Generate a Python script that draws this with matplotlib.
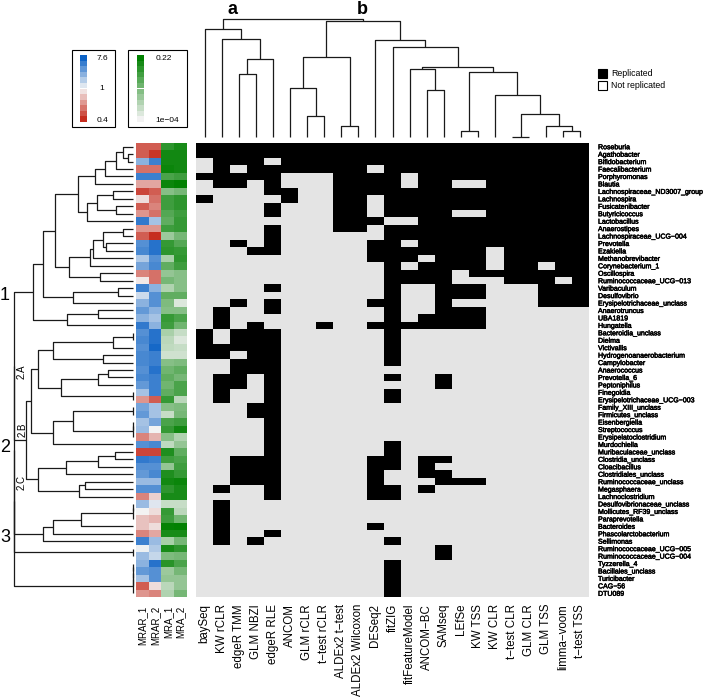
import numpy as np
import matplotlib
matplotlib.use('Agg')
import matplotlib.pyplot as plt
import matplotlib.patheffects as pe
from matplotlib.colors import ListedColormap, LinearSegmentedColormap
from matplotlib.patches import Rectangle

plt.rcParams['font.family'] = ['Liberation Sans', 'DejaVu Sans']

genera = ['Roseburia', 'Agathobacter', 'Bifidobacterium', 'Faecalibacterium',
          'Porphyromonas', 'Blautia', 'Lachnospiraceae_ND3007_group', 'Lachnospira',
          'Fusicatenibacter', 'Butyricicoccus', 'Lactobacillus', 'Anaerostipes',
          'Lachnospiraceae_UCG\u2212004', 'Prevotella', 'Ezakiella', 'Methanobrevibacter',
          'Corynebacterium_1', 'Oscillospira', 'Ruminococcaceae_UCG\u2212013', 'Varibaculum',
          'Desulfovibrio', 'Erysipelotrichaceae_unclass', 'Anaerotruncus', 'UBA1819',
          'Hungatella', 'Bacteroidia_unclass', 'Dielma', 'Victivallis',
          'Hydrogenoanaerobacterium', 'Campylobacter', 'Anaerococcus', 'Prevotella_6',
          'Peptoniphilus', 'Finegoldia', 'Erysipelotrichaceae_UCG\u2212003', 'Family_XIII_unclass',
          'Firmicutes_unclass', 'Eisenbergiella', 'Streptococcus', 'Erysipelatoclostridium',
          'Murdochiella', 'Muribaculaceae_unclass', 'Clostridia_unclass', 'Cloacibacillus',
          'Clostridiales_unclass', 'Ruminococcaceae_unclass', 'Megasphaera', 'Lachnoclostridium',
          'Desulfovibrionaceae_unclass', 'Mollicutes_RF39_unclass', 'Paraprevotella', 'Bacteroides',
          'Phascolarctobacterium', 'Sellimonas', 'Ruminococcaceae_UCG\u2212005',
          'Ruminococcaceae_UCG\u2212004', 'Tyzzerella_4', 'Bacillales_unclass', 'Turicibacter',
          'CAG\u221256', 'DTU089']

methods = ['baySeq', 'KW rCLR', 'edgeR TMM', 'GLM NBZI', 'edgeR RLE', 'ANCOM', 'GLM rCLR',
           't\u2212test rCLR', 'ALDEx2 t\u2212test', 'ALDEx2 Wilcoxon', 'DESeq2', 'fitZIG',
           'fitFeatureModel', 'ANCOM\u2212BC', 'SAMseq', 'LEfSe', 'KW TSS', 'KW CLR',
           't\u2212test CLR', 'GLM CLR', 'GLM TSS', 'limma\u2212voom', 't\u2212test TSS']

# rows (genus index) where each method was replicated
replicated = [
    "0-1,4,7,25-28",
    "0-5,22-24,27-28,31-34,46,48-53",
    "0-2,4-5,13,21,25-27,29-32,42-45",
    "0-4,14,24-30,35-36,42-45,53",
    "0-1,3-6,8-9,11-14,19,21-22,25-47,52",
    "0-3,6-7",
    "0-3",
    "0-3,24",
    "0-11",
    "0-11",
    "0-2,4-6,10,13-15,21,24,42-47,51",
    "0-9,11-29,31,33-34,40-43,46-47,53,56-60",
    "0-3,6-9,11-12,14-15,17-18,24",
    "0-14,16-18,23-24,42-44,46",
    "0-24,31-32,42,44-45,54-55",
    "0-4,6-8,10-16,19-20,22-24,45",
    "0-4,6-8,10-17,19-20,22-24,45",
    "0-13,17",
    "0-18",
    "0-18",
    "0-15,17-21",
    "0-17,19-21",
    "0-21",
]

mrar_1 = [0.5, 0.5, 2.5, 0.55, 5, 0.7, 0.45, 0.9, 0.5, 0.65, 5.5, 0.65, 0.5, 4, 4.5, 1.8,
          3, 0.6, 0.95, 5, 1.4, 2.5, 3.5, 2.5, 5.5, 4, 4.5, 4, 4.5, 4.5, 4, 4.5, 3.5, 2, 0.65,
          3, 3.5, 2, 2.2, 0.6, 4, 0.45, 5.5, 4, 3.5, 2.2, 4, 0.6, 2.2, 1.0, 0.8, 0.8, 0.6, 5,
          1.05, 2.2, 2.5, 3.5, 2, 0.5, 0.65]
mrar_2 = [0.5, 0.42, 5, 0.55, 5, 0.7, 0.5, 0.55, 0.6, 0.55, 2, 0.65, 0.4, 6, 6, 4, 4.5,
          0.55, 0.55, 2.5, 4, 4, 2.5, 2, 2.5, 6, 6, 7, 5, 5, 6, 5, 5, 5, 0.5, 2, 2, 3, 1.0,
          0.75, 4.5, 0.45, 5, 4, 4.5, 2.2, 4, 0.85, 1.2, 0.9, 0.75, 0.9, 0.7, 2.2, 1.8, 1.5,
          6, 4, 4, 0.9, 0.6]
mra_1 = [0.05, 0.12, 0.12, 0.15, 0.02, 0.15, 0.003, 0.03, 0.03, 0.015, 0.01, 0.03, 0.0015,
         0.04, 0.05, 0.001, 0.01, 0.002, 0.005, 0.0008, 0.01, 0.004, 0.003, 0.04, 0.03, 0.001,
         0.0006, 0.0005, 0.0003, 0.003, 0.006, 0.01, 0.006, 0.01, 0.04, 0.003, 0.0004, 0.02,
         0.04, 0.003, 0.0005, 0.08, 0.03, 0.002, 0.08, 0.12, 0.05, 0.1, 0.0004, 0.04, 0.03,
         0.18, 0.1, 0.001, 0.1, 0.004, 0.06, 0.0015, 0.002, 0.0006, 0.0008]
mra_2 = [0.1, 0.12, 0.12, 0.12, 0.03, 0.2, 0.005, 0.05, 0.05, 0.03, 0.04, 0.04, 0.005,
         0.015, 0.04, 0.05, 0.03, 0.003, 0.003, 0.003, 0.01, 0.0002, 0.003, 0.02, 0.006,
         0.0004, 0.0002, 0.0004, 0.0003, 0.004, 0.01, 0.005, 0.02, 0.02, 0.0006, 0.004, 0.005,
         0.03, 0.12, 0.0008, 0.002, 0.01, 0.02, 0.03, 0.04, 0.15, 0.1, 0.1, 0.0004, 0.0006,
         0.006, 0.2, 0.1, 0.005, 0.05, 0.005, 0.02, 0.005, 0.002, 0.002, 0.005]
anno_labels = ['MRAR_1', 'MRAR_2', 'MRA_1', 'MRA_2']


def N(a, b, h):
    return (a, b, h)


# column dendrogram (method similarity)
col_tree = N(N(0, N(1, N(N(2, 3, 188), 4, 232), 292), 322),
             N(N(N(5, N(6, 7, 64), 147), N(8, 9, 32), 240),
               N(10, N(11, N(N(12, N(13, 14, 140), 204),
                             N(N(15, 16, 18),
                               N(17, N(N(18, 19, 0), N(20, N(21, 22, 18), 34), 70), 125),
                               195), 208), 268), 288), 347), 352)

# row dendrogram (genus similarity)
g1 = N(N(N(N(N(0, N(1, 2, 0.042), 0.084), 3, 0.14), 4, 0.238), 5, 0.317),
       N(N(N(6, 7, 0.168), N(8, 9, 0.14), 0.30), 10, 0.384), 0.462)
g2 = N(N(N(N(N(11, 12, 0.084), N(13, 14, 0.224), 0.252), 15, 0.336), 16, 0.364),
       N(17, 18, 0.28), 0.54)
clu1 = N(N(N(g1, g2, 0.658), N(N(19, 20, 0.126), 21, 0.504), 0.756),
         N(N(22, 23, 0.294), 24, 0.552), 0.84)
clu2a = N(N(N(N(25, 26, 0.0), 27, 0.168), N(28, 29, 0.252), 0.672),
          N(N(N(30, 31, 0.21), 32, 0.29), N(33, 34, 0.0), 0.608), 0.798)
clu2b = N(N(N(35, 36, 0.0), N(N(37, 38, 0.0), 39, 0.0), 0.504), 40, 0.672)
clu2c = N(N(N(N(41, 42, 0.154), 43, 0.294), 44, 0.56), N(N(45, 46, 0.406), 47, 0.45), 0.798)
clu2 = N(N(clu2a, clu2b, 0.854), clu2c, 0.896)
clu3 = N(N(N(N(N(48, 49, 0.0), 50, 0.0), 51, 0.434), 52, 0.672), 53, 0.756)
row_tree = N(N(N(N(clu1, clu2, 1.0), clu3, 1.0), N(54, 55, 0.0), 1.0),
             N(N(N(N(56, 57, 0.0), 58, 0.0), 59, 0.0), 60, 0.0), 1.0)


def parse_runs(s):
    rows = []
    for part in s.split(','):
        if '-' in part:
            a, b = part.split('-')
            rows.extend(range(int(a), int(b) + 1))
        else:
            rows.append(int(part))
    return rows


mat = np.zeros((len(genera), len(methods)))
for j, s in enumerate(replicated):
    mat[parse_runs(s), j] = 1

W, H = 712, 698
fig = plt.figure(figsize=(W / 100, H / 100), dpi=100)
heavy = [pe.withStroke(linewidth=0.35, foreground='black')]


def px_axes(x0, y0, x1, y1):
    return fig.add_axes([x0 / W, 1 - y1 / H, (x1 - x0) / W, (y1 - y0) / H])


def draw_tree(ax, node, top):
    if isinstance(node, int):
        return node, 0.0
    l, r, h = node
    pl, hl = draw_tree(ax, l, top)
    pr, hr = draw_tree(ax, r, top)
    if top:
        ax.plot([pl, pl, pr, pr], [hl, h, h, hr], color='#1a1a1a', lw=0.9,
                solid_capstyle='butt', clip_on=False)
    else:
        ax.plot([hl, h, h, hr], [pl, pl, pr, pr], color='#1a1a1a', lw=0.9,
                solid_capstyle='butt', clip_on=False)
    return (pl + pr) / 2, h


# main heatmap
ax = px_axes(196, 143, 589, 597)
ax.imshow(mat, cmap=ListedColormap(['#e4e4e4', '#000000']), aspect='auto',
          interpolation='nearest', vmin=0, vmax=1)
for s in ax.spines.values():
    s.set_visible(False)
ax.set_xticks(range(len(methods)))
ax.set_xticklabels(methods, rotation=90, fontsize=8.3)
ax.tick_params(axis='x', length=0, pad=5)
ax.yaxis.tick_right()
ax.set_yticks(range(len(genera)))
ax.set_yticklabels(genera, fontsize=5.05)
ax.tick_params(axis='y', length=0, pad=6.5)
for t in ax.get_yticklabels():
    t.set_path_effects(heavy)

# relative abundance annotation columns
rb = LinearSegmentedColormap.from_list('rb', ['#c62d1f', '#f4f4f4', '#0d63c6'])
gr = LinearSegmentedColormap.from_list('gr', ['#f2f2f2', '#008000'])


def rb_pos(v):
    v = np.asarray(v, float)
    return np.where(v >= 1, 0.5 + 0.5 * np.log(v) / np.log(7.6),
                    0.5 - 0.5 * np.log(v) / np.log(0.4))


def gr_pos(v):
    v = np.asarray(v, float)
    return np.clip((np.log(v) - np.log(1e-4)) / (np.log(0.22) - np.log(1e-4)), 0, 1)


rgb = np.stack([rb(rb_pos(mrar_1)), rb(rb_pos(mrar_2)),
                gr(gr_pos(mra_1)), gr(gr_pos(mra_2))], axis=1)
axa = px_axes(136, 143, 187, 597)
axa.imshow(rgb, aspect='auto', interpolation='nearest')
for s in axa.spines.values():
    s.set_visible(False)
axa.set_yticks([])
axa.set_xticks(range(4))
axa.set_xticklabels(anno_labels, rotation=90, fontsize=7)
axa.tick_params(axis='x', length=0, pad=6)

# dendrograms
axt = px_axes(196, 19, 589, 137)
draw_tree(axt, col_tree, True)
axt.set_xlim(-0.5, len(methods) - 0.5)
axt.set_ylim(0, 352)
axt.axis('off')

axr = px_axes(14, 143, 133, 597)
draw_tree(axr, row_tree, False)
axr.set_xlim(1.0, 0.0)
axr.set_ylim(len(genera) - 0.5, -0.5)
axr.axis('off')

# overlay in pixel coordinates for legends and labels
ov = fig.add_axes([0, 0, 1, 1], facecolor='none')
ov.set_xlim(0, W)
ov.set_ylim(H, 0)
ov.axis('off')

ov.add_patch(Rectangle((72, 50), 43, 77, fill=False, ec='black', lw=0.8))
ov.add_patch(Rectangle((128, 50), 59, 77, fill=False, ec='black', lw=0.8))
n_steps = 12
key_rb = np.linspace(1, 0, n_steps)
key_gr = np.linspace(1, 0, n_steps)
step = 67 / n_steps
for i in range(n_steps):
    ov.add_patch(Rectangle((80, 55 + i * step), 7, step, color=rb(key_rb[i]), lw=0))
    ov.add_patch(Rectangle((137, 55 + i * step), 7, step, color=gr(key_gr[i]), lw=0))
ov.text(97, 59, '7.6', fontsize=6, va='center')
ov.text(99, 89, '1', fontsize=6, va='center')
ov.text(97, 120, '0.4', fontsize=6, va='center')
ov.text(156, 59, '0.22', fontsize=6, va='center')
ov.text(155, 120, '1e\u221204', fontsize=6, va='center')

ov.add_patch(Rectangle((598, 69), 9, 9, fc='black', ec='black', lw=0.8))
ov.add_patch(Rectangle((598, 81), 9, 9, fc='white', ec='black', lw=0.8))
ov.text(611, 74, 'Replicated', fontsize=6.3, va='center')
ov.text(611, 86, 'Not replicated', fontsize=6.3, va='center')

ov.text(233, 10, 'a', fontsize=13, ha='center', va='center', fontweight='bold')
ov.text(362, 10, 'b', fontsize=13, ha='center', va='center', fontweight='bold')
ov.text(5, 295, '1', fontsize=13, ha='center', va='center')
ov.text(5, 447, '2', fontsize=13, ha='center', va='center')
ov.text(5, 537, '3', fontsize=13, ha='center', va='center')
ov.text(22, 372, '2.A', fontsize=7, rotation=90, ha='center', va='center')
ov.text(23, 430, '2.B', fontsize=7, rotation=90, ha='center', va='center')
ov.text(22, 483, '2.C', fontsize=7, rotation=90, ha='center', va='center')

fig.savefig('out.png', dpi=100)
